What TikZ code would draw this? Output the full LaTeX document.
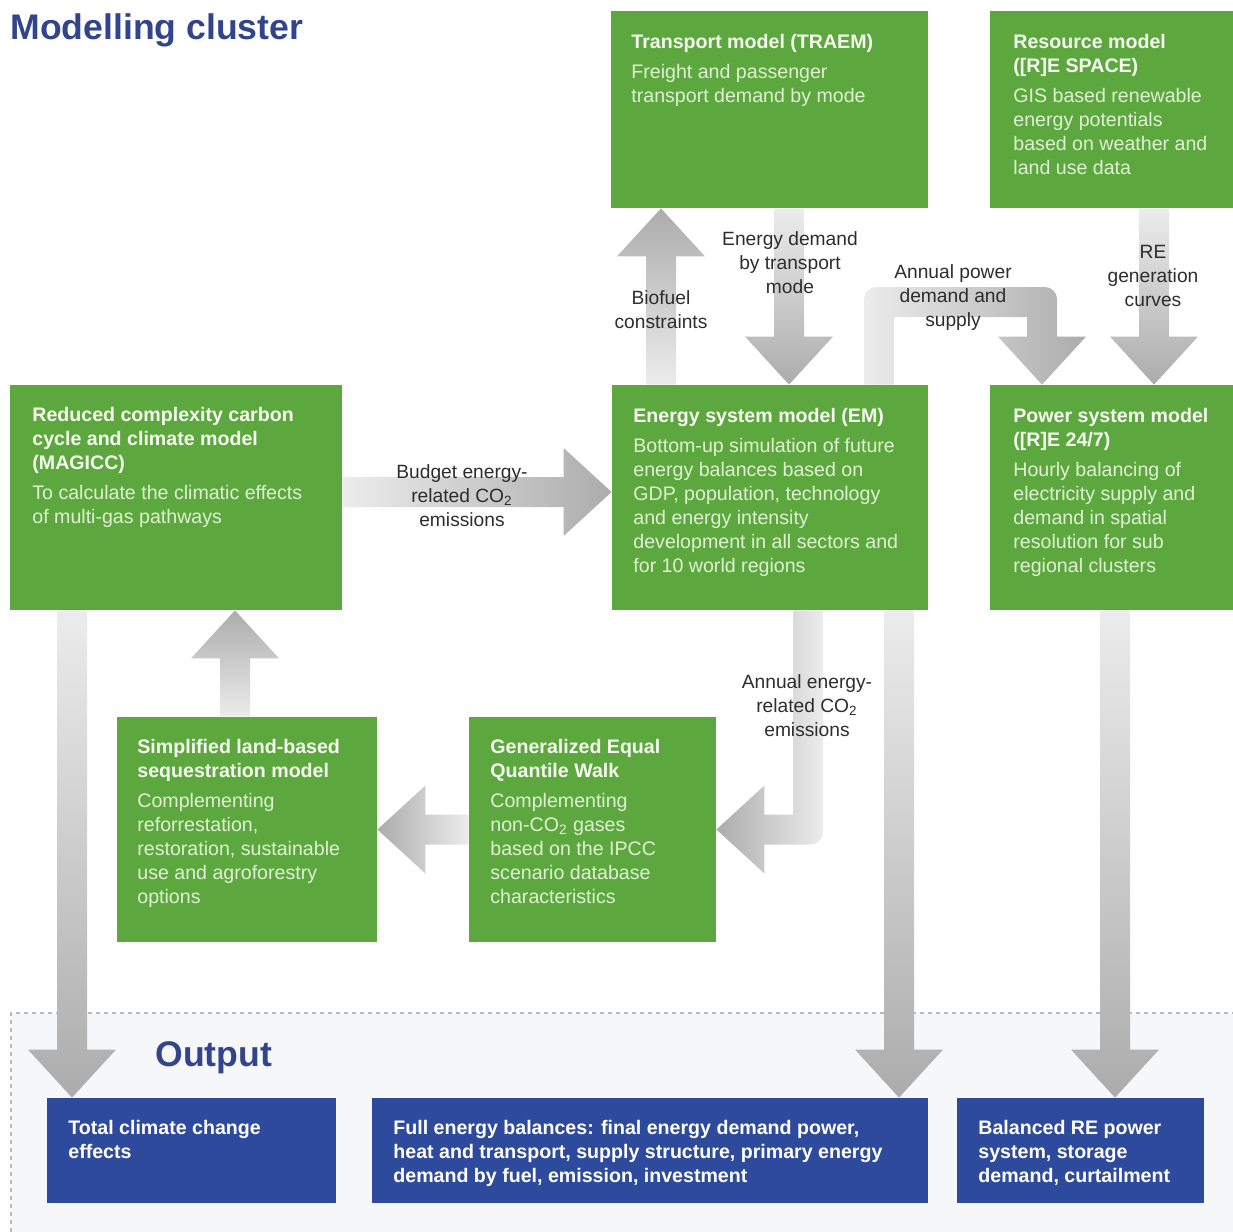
\documentclass[tikz,border=0pt]{standalone}
\usepackage{fontspec}
\setmainfont{Liberation Sans}
\usetikzlibrary{calc,fit}
\definecolor{boxgreen}{RGB}{92,168,62}
\definecolor{titletxt}{RGB}{246,250,240}
\definecolor{bodytxt}{RGB}{224,241,212}
\definecolor{boxblue}{RGB}{45,74,156}
\definecolor{headblue}{RGB}{50,68,140}
\definecolor{arlight}{RGB}{236,236,236}
\definecolor{ardark}{RGB}{172,172,172}
\definecolor{lbl}{RGB}{45,45,45}
\definecolor{outbg}{RGB}{246,247,248}
\definecolor{outline}{RGB}{185,185,185}
\tikzset{
 gbox/.style={fill=boxgreen, draw=none, inner sep=0pt},
 bbox/.style={fill=boxblue, draw=none, inner sep=0pt},
 btxt/.style={anchor=north west, inner sep=0pt, align=left, text=bodytxt, font=\fontsize{9.8}{12}\selectfont},
 otxt/.style={anchor=north west, inner sep=0pt, align=left, text=white, font=\fontsize{9.8}{12}\selectfont\bfseries},
 lbltxt/.style={inner sep=0pt, align=center, text=lbl, font=\fontsize{9.6}{12}\selectfont},
 heading/.style={anchor=north west, inner sep=0pt, text=headblue, font=\fontsize{17.8}{20}\selectfont\bfseries},
}
\newcommand{\tl}[1]{{\bfseries\color{titletxt}#1}}
\newcommand{\ArrDown}[2]{\shade[top color=arlight,bottom color=ardark] let \p1=(#1),\p2=(#2) in (\x1-7.5pt,\y1) -- (\x1-7.5pt,\y2+24pt) -- (\x1-22pt,\y2+24pt) -- (\x1,\y2) -- (\x1+22pt,\y2+24pt) -- (\x1+7.5pt,\y2+24pt) -- (\x1+7.5pt,\y1) -- cycle;}
\newcommand{\ArrUp}[2]{\shade[bottom color=arlight,top color=ardark] let \p1=(#1),\p2=(#2) in (\x1-7.5pt,\y1) -- (\x1-7.5pt,\y2-24pt) -- (\x1-22pt,\y2-24pt) -- (\x1,\y2) -- (\x1+22pt,\y2-24pt) -- (\x1+7.5pt,\y2-24pt) -- (\x1+7.5pt,\y1) -- cycle;}
\newcommand{\ArrLeft}[2]{\shade[left color=ardark,right color=arlight] let \p1=(#1),\p2=(#2) in (\x1,\y1-7.5pt) -- (\x2+24pt,\y1-7.5pt) -- (\x2+24pt,\y1-22pt) -- (\x2,\y1) -- (\x2+24pt,\y1+22pt) -- (\x2+24pt,\y1+7.5pt) -- (\x1,\y1+7.5pt) -- cycle;}
\newcommand{\ArrRight}[2]{\shade[left color=arlight,right color=ardark] let \p1=(#1),\p2=(#2) in (\x1,\y1-7.5pt) -- (\x2-24pt,\y1-7.5pt) -- (\x2-24pt,\y1-22pt) -- (\x2,\y1) -- (\x2-24pt,\y1+22pt) -- (\x2-24pt,\y1+7.5pt) -- (\x1,\y1+7.5pt) -- cycle;}
\begin{document}
\begin{tikzpicture}[x=0.5pt,y=-0.5pt]
\useasboundingbox (0,0) rectangle (1233,1232);
\clip (0,0) rectangle (1233,1232);
% output area
\fill[outbg] (11,1013) rectangle (1260,1260);
\draw[outline, line width=0.6pt, dash pattern=on 2pt off 2pt] (1260,1013) -- (11,1013) -- (11,1260);
% headings
\node[heading] (title) at (10,13) {Modelling cluster};
\node[heading] (outtitle) at (155,1041) {Output};
% green boxes
\node[gbox, fit={(611,11) (928,208)}] (transport) {};
\node[gbox, fit={(990,11) (1240,208)}] (resource) {};
\node[gbox, fit={(10,385) (342,610)}] (magicc) {};
\node[gbox, fit={(612,385) (928,610)}] (em) {};
\node[gbox, fit={(990,385) (1240,610)}] (power) {};
\node[gbox, fit={(117,717) (377,942)}] (simp) {};
\node[gbox, fit={(469,717) (716,942)}] (geqw) {};
% blue boxes
\node[bbox, fit={(47,1098) (336,1203)}] (total) {};
\node[bbox, fit={(372,1098) (928,1203)}] (full) {};
\node[bbox, fit={(957,1098) (1204,1203)}] (bal) {};
% box texts
\node[btxt] (transportT) at (631,34) {\tl{Transport model (TRAEM)}\\[3pt]Freight and passenger\\transport demand by mode};
\node[btxt] (resourceT) at (1013,34) {\tl{Resource model}\\\tl{([R]E SPACE)}\\[3pt]GIS based renewable\\energy potentials\\based on weather and\\land use data};
\node[btxt] (magiccT) at (32,407) {\tl{Reduced complexity carbon}\\\tl{cycle and climate model}\\\tl{(MAGICC)}\\[3pt]To calculate the climatic effects\\of multi-gas pathways};
\node[btxt] (emT) at (633,408) {\tl{Energy system model (EM)}\\[3pt]Bottom-up simulation of future\\energy balances based on\\GDP, population, technology\\and energy intensity\\development in all sectors and\\for 10 world regions};
\node[btxt] (powerT) at (1013,408) {\tl{Power system model}\\\tl{([R]E 24/7)}\\[3pt]Hourly balancing of\\electricity supply and\\demand in spatial\\resolution for sub\\regional clusters};
\node[btxt] (simpT) at (137,739) {\tl{Simplified land-based}\\\tl{sequestration model}\\[3pt]Complementing\\reforrestation,\\restoration, sustainable\\use and agroforestry\\options};
\node[btxt] (geqwT) at (490,739) {\tl{Generalized Equal}\\\tl{Quantile Walk}\\[3pt]Complementing\\non-CO\textsubscript{2} gases\\based on the IPCC\\scenario database\\characteristics};
\node[otxt] (totalT) at (68,1120) {Total climate change\\effects};
\node[otxt] (fullT) at (393,1120) {Full energy balances: final energy demand power,\\heat and transport, supply structure, primary energy\\demand by fuel, emission, investment};
\node[otxt] (balT) at (978,1120) {Balanced RE power\\system, storage\\demand, curtailment};
% connector end points
\coordinate (a1s) at (72,0 |- magicc.south);
\coordinate (a1e) at (72,0 |- total.north);
\coordinate (a2s) at (235,0 |- simp.north);
\coordinate (a2e) at (235,0 |- magicc.south);
\coordinate (a4s) at (magicc.east |- 0,492);
\coordinate (a4e) at (em.west |- 0,492);
\coordinate (a5s) at (661,0 |- em.north);
\coordinate (a5e) at (661,0 |- transport.south);
\coordinate (a6s) at (789,0 |- transport.south);
\coordinate (a6e) at (789,0 |- em.north);
\coordinate (a7s) at (879,0 |- em.north);
\coordinate (a7m) at (0,302);
\coordinate (a7e) at (1042,0 |- power.north);
\coordinate (a8s) at (1154,0 |- resource.south);
\coordinate (a8e) at (1154,0 |- power.north);
\coordinate (a9s) at (808,0 |- em.south);
\coordinate (a10s) at (899,0 |- em.south);
\coordinate (a10e) at (899,0 |- full.north);
\coordinate (a11s) at (1115,0 |- power.south);
\coordinate (a11e) at (1115,0 |- bal.north);
% arrows
\ArrDown{a1s}{a1e}
\ArrUp{a2s}{a2e}
\ArrLeft{geqw.west}{simp.east}
\ArrRight{a4s}{a4e}
\ArrUp{a5s}{a5e}
\ArrDown{a6s}{a6e}
\ArrDown{a8s}{a8e}
\ArrDown{a10s}{a10e}
\ArrDown{a11s}{a11e}
\shade[left color=arlight,right color=ardark] let \p1=(a7s),\p2=(a7e),\p3=(a7m) in
 (\x1-7.5pt,\y1) -- (\x1-7.5pt,\y3+1.5pt) arc[start angle=180,end angle=90,radius=6pt]
 -- (\x2+1.5pt,\y3+7.5pt) arc[start angle=90,end angle=0,radius=6pt]
 -- (\x2+7.5pt,\y2+24pt) -- (\x2+22pt,\y2+24pt) -- (\x2,\y2) -- (\x2-22pt,\y2+24pt) -- (\x2-7.5pt,\y2+24pt)
 -- (\x2-7.5pt,\y3-7.5pt) -- (\x1+7.5pt,\y3-7.5pt) -- (\x1+7.5pt,\y1) -- cycle;
\shade[left color=ardark,right color=arlight] let \p1=(a9s),\p2=(geqw.east) in
 (\x1+7.5pt,\y1) -- (\x1+7.5pt,\y2-1.5pt) arc[start angle=0,end angle=-90,radius=6pt]
 -- (\x2+24pt,\y2-7.5pt) -- (\x2+24pt,\y2-22pt) -- (\x2,\y2) -- (\x2+24pt,\y2+22pt) -- (\x2+24pt,\y2+7.5pt)
 -- (\x1-7.5pt,\y2+7.5pt) -- (\x1-7.5pt,\y1) -- cycle;
% labels
\node[lbltxt] (l4) at (462,496) {Budget energy-\\related CO\textsubscript{2}\\emissions};
\node[lbltxt] (l6) at (790,263) {Energy demand\\by transport\\mode};
\node[lbltxt] (l5) at (661,310) {Biofuel\\constraints};
\node[lbltxt] (l7) at (953,298) {Annual power\\demand and\\supply};
\node[lbltxt] (l8) at (1153,276) {RE\\generation\\curves};
\node[lbltxt] (l9) at (807,706) {Annual energy-\\related CO\textsubscript{2}\\emissions};
\end{tikzpicture}
\end{document}
